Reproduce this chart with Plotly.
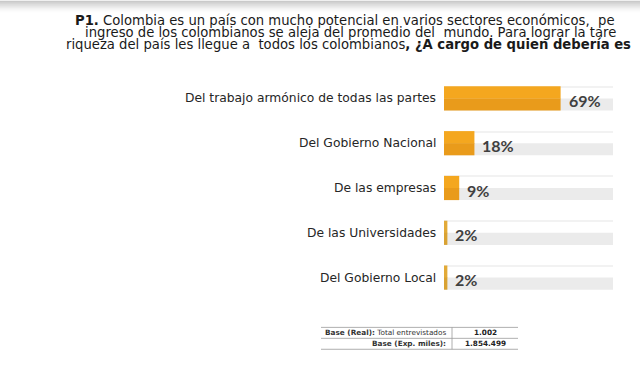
import plotly.graph_objects as go

categories = [
    "Del trabajo armónico de todas las partes",
    "Del Gobierno Nacional",
    "De las empresas",
    "De las Universidades",
    "Del Gobierno Local",
]
values = [69, 18, 9, 2, 2]
value_labels = ["69%", "18%", "9%", "2%", "2%"]
full_scale = [100, 100, 100, 100, 100]

title_lines = [
    "<b>P1.</b> Colombia es un país con mucho potencial en varios sectores económicos,  pe",
    "ingreso de los colombianos se aleja del promedio del  mundo. Para lograr la tare",
    "riqueza del país les llegue a  todos los colombianos<b>, ¿A cargo de quien debería es</b>",
]
title_x = [73, 83, 64]
title_y = [20, 32, 44]

table_rows = [
    ("<b>Base (Real):</b> Total entrevistados", "1.002"),
    ("<b>Base (Exp. miles):</b>", "1.854.499"),
]

FONT = "DejaVu Sans"
W, H = 640, 368
L, R, T, B = 444, 27, 75.5, 67.5

fig = go.Figure()

# light top line of each row
fig.add_trace(go.Bar(
    y=categories, x=full_scale, orientation="h",
    offset=-0.27, width=0.025, marker=dict(color="#F2F2F2", line_width=0),
    hoverinfo="skip", showlegend=False,
))
# grey background (lower half)
fig.add_trace(go.Bar(
    y=categories, x=full_scale, orientation="h",
    offset=0.0, width=0.27, marker=dict(color="#EBEBEB", line_width=0),
    hoverinfo="skip", showlegend=False,
))
bar_colors = ["#F4A71F" if v > 5 else "#E2AA38" for v in values]
fig.add_trace(go.Bar(
    y=categories, x=values, orientation="h",
    offset=-0.27, width=0.28, marker=dict(color=bar_colors, line_width=0),
    hoverinfo="skip", showlegend=False,
))
bar_colors2 = ["#E99B1B" if v > 5 else "#D9A232" for v in values]
fig.add_trace(go.Bar(
    y=categories, x=values, orientation="h",
    offset=0.0, width=0.27, marker=dict(color=bar_colors2, line_width=0),
    hoverinfo="skip", showlegend=False,
))

annotations = []
for c, v, lab in zip(categories, values, value_labels):
    annotations.append(dict(
        x=v, y=c, xref="x", yref="y", text=lab, showarrow=False,
        xanchor="left", yanchor="middle", xshift=6, yshift=-2,
        font=dict(family="Lato", size=16, color="#404040", weight="bold"),
    ))
    annotations.append(dict(
        x=0, y=c, xref="paper", yref="y", text=c, showarrow=False,
        xanchor="right", yanchor="middle", xshift=-6, yshift=0,
        font=dict(family=FONT, size=12.3, color="#262626"),
    ))

def px2x(px):
    return (px - L) / (W - L - R)

def py2y(py):
    return 1 - (py - T) / (H - T - B)

for txt, xp, yp in zip(title_lines, title_x, title_y):
    annotations.append(dict(
        x=px2x(xp), y=py2y(yp),
        xref="paper", yref="paper", text=txt, showarrow=False,
        xanchor="left", yanchor="middle",
        font=dict(family=FONT, size=13.2, color="#1a1a1a"),
    ))

shapes = []
for yy in [328, 339, 350]:
    shapes.append(dict(type="line", xref="paper", yref="paper",
                       x0=px2x(321), x1=px2x(518), y0=py2y(yy), y1=py2y(yy),
                       line=dict(color="#9a9a9a", width=0.8)))
shapes.append(dict(type="line", xref="paper", yref="paper",
                   x0=px2x(452), x1=px2x(452), y0=py2y(328), y1=py2y(350),
                   line=dict(color="#9a9a9a", width=0.8)))
for i, (left_txt, right_txt) in enumerate(table_rows):
    yc = py2y(333.5 + 11 * i)
    annotations.append(dict(x=px2x(448), y=yc, xref="paper", yref="paper",
                            text=left_txt, showarrow=False, xanchor="right",
                            yanchor="middle",
                            font=dict(family=FONT, size=7.3, color="#333333")))
    annotations.append(dict(x=px2x(485), y=yc, xref="paper", yref="paper",
                            text="<b>" + right_txt + "</b>", showarrow=False,
                            xanchor="center", yanchor="middle",
                            font=dict(family=FONT, size=7.3, color="#222222")))

# top shadow gradient
steps = 12
for k in range(steps):
    shapes.append(dict(type="rect", xref="paper", yref="paper",
                       x0=px2x(0), x1=px2x(W), y0=py2y(k + 1), y1=py2y(k),
                       fillcolor="#9a9a9a", opacity=0.6 * (1 - k / steps) ** 1.6,
                       line=dict(width=0), layer="below"))

fig.update_layout(
    width=W, height=H,
    margin=dict(l=L, r=R, t=T, b=B),
    paper_bgcolor="white", plot_bgcolor="white",
    barmode="overlay",
    xaxis=dict(range=[0, 100], visible=False, fixedrange=True),
    yaxis=dict(categoryorder="array", categoryarray=categories,
               range=[4.5, -0.5], visible=False, fixedrange=True),
    annotations=annotations,
    shapes=shapes,
    showlegend=False,
)

fig.write_html("out.html",
               config={"displayModeBar": False},
               post_script="document.body.style.margin='0';document.body.style.overflow='hidden';")
